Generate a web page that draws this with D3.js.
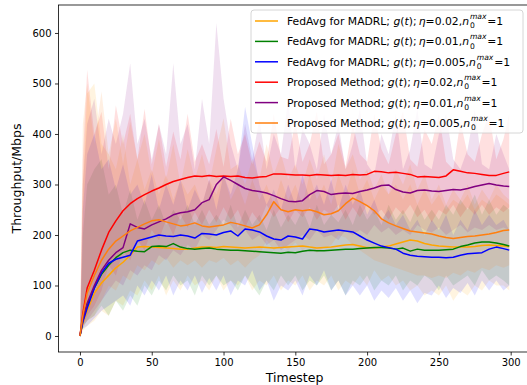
<!DOCTYPE html>
<html><head><meta charset="utf-8">
<script src="https://cdn.jsdelivr.net/npm/d3@7"></script>
<style>body{margin:0;background:#fff;} svg{display:block;font-family:"DejaVu Sans",sans-serif;}</style>
</head><body><svg id="c" width="527" height="385"></svg>
<script>
// ---------- data ----------
const timesteps = [0,2,5,10,15,20,25,30,35,40, 45,50,55,60,65,70,75,80,85,90, 95,100,105,110,115,120,125,130,135,140, 145,150,155,160,165,170,175,180,185,190, 195,200,205,210,215,220,225,230,235,240, 245,250,255,260,265,270,275,280,285,290, 295,299];
const xTicks = [0,50,100,150,200,250,300];
const yTicks = [0,100,200,300,400,500,600];
const seriesLabels = [
  {head:"FedAvg for MADRL; ", eta:"0.02"},
  {head:"FedAvg for MADRL; ", eta:"0.01"},
  {head:"FedAvg for MADRL; ", eta:"0.005"},
  {head:"Proposed Method; ", eta:"0.02"},
  {head:"Proposed Method; ", eta:"0.01"},
  {head:"Proposed Method; ", eta:"0.005"}
];
const seriesColors = ["#FFA500","#008000","#0000FF","#FF0000","#800080","#FF7F0E"];

// mean curves
const meanFed002 = [0,25,50,85,105,120,135,146,160,176,177,176,175,174,173,172,172,174,176,176,175,177,176,175,174,175,176,175,174,175,176,177,178,176,174,175,176,178,180,181,178,175,174,176,178,182,186,190,188,183,180,178,177,176,176,176,177,179,180,179,178,177];
const meanFed001 = [0,30,60,95,122,140,155,165,170,168,167,177,178,177,183,176,173,172,173,174,172,171,170,170,169,168,167,166,165,164,166,165,168,170,169,169,170,171,172,172,173,174,175,175,174,172,174,168,172,170,170,170,171,172,177,180,184,186,186,184,181,178];
const meanFed0005 = [0,28,55,95,125,144,152,156,160,188,192,196,200,198,197,200,198,194,203,202,200,205,208,198,212,210,206,198,192,190,198,196,192,212,210,206,208,210,208,206,198,190,184,178,175,172,164,160,158,157,156,156,155,156,160,163,164,165,172,176,173,170];
const meanProp002 = [0,45,95,130,170,205,228,248,262,272,280,287,293,300,306,310,314,317,316,318,316,317,316,317,314,313,315,316,321,321,320,319,319,318,320,319,318,319,318,320,319,320,326,325,323,324,322,320,315,316,315,314,317,329,326,323,322,320,318,318,322,325];
const meanProp001 = [0,35,65,100,130,150,165,175,222,215,212,220,226,232,240,244,246,250,264,270,300,315,308,300,292,288,286,283,278,272,267,266,268,280,288,286,280,282,283,282,286,289,293,298,299,290,285,283,288,289,287,286,288,290,289,292,296,299,302,299,297,296];
const meanProp0005 = [0,40,85,120,150,172,188,198,208,215,222,228,230,226,222,218,220,224,218,216,218,220,225,222,218,214,220,240,266,250,246,250,248,250,246,240,242,248,262,273,266,258,248,232,224,218,213,208,206,204,202,198,195,193,195,197,198,200,202,205,209,210];

// shaded band bounds
const hiFed002 = [0,300,480,500,380,360,330,400,300,350, 290,330,280,320,270,310,280,300,260,310, 280,320,270,300,260,310,270,300,260,310, 270,300,260,320,270,300,260,320,280,330, 280,310,270,300,280,330,300,340,290,320, 270,300,260,290,270,300,260,290,270,300, 280,270];
const loFed002 = [0,10,20,30,50,40,70,60,90,80, 110,90,120,80,110,90,120,100,110,90, 120,90,110,100,120,90,110,100,120,90, 110,100,120,90,110,100,120,90,110,100, 120,100,130,110,120,100,110,90,100,80, 90,80,100,70,90,80,100,90,110,100, 100,90];
const hiFed001 = [0,200,300,330,350,280,300,240,290,230, 270,230,260,220,250,230,260,220,250,220, 240,220,260,215,250,220,240,210,250,215, 240,220,250,215,260,220,240,225,250,220, 260,230,250,220,260,230,250,225,260,230, 250,230,260,240,270,250,280,240,270,240, 260,250];
const loFed001 = [0,15,30,40,60,40,70,50,80,60, 100,80,110,90,120,100,110,80,120,100, 120,100,110,90,120,100,80,110,90,120, 100,120,90,110,100,120,90,110,80,110, 100,120,90,110,100,120,90,110,100,120, 110,90,120,100,110,120,100,130,110,120, 110,100];
const hiFed0005 = [0,250,360,400,330,350,290,340,280,300, 260,320,250,300,260,310,250,290,260,310, 250,320,280,330,454,380,300,260,290,250, 300,260,320,270,300,260,310,250,300,260, 290,240,270,230,250,220,240,210,230,200, 230,210,240,200,230,210,250,220,240,220, 230,210];
const loFed0005 = [0,15,20,35,50,60,70,80,60,100, 80,110,90,120,80,110,90,120,85,115, 90,120,80,110,100,130,90,110,70,100, 90,110,80,120,100,130,90,110,80,100, 80,100,70,90,75,95,70,90,65,85, 80,100,75,95,85,105,80,110,90,110, 90,100];
const hiProp002 = [0,350,527,400,444,330,457,380,440,350, 450,340,420,335,405,350,440,345,380,340, 410,335,430,360,400,340,385,345,440,355, 350,425,345,380,445,340,360,400,335,420, 360,345,440,370,340,400,445,350,335,410, 380,440,345,330,425,360,345,400,440,350, 390,440];
const loProp002 = [0,20,40,60,90,140,120,170,150,190, 170,210,190,230,200,240,215,245,220,250, 225,255,230,250,215,245,225,260,235,255, 225,250,235,255,230,250,240,260,230,255, 235,260,240,250,230,255,240,260,235,250, 225,250,240,260,235,255,240,260,240,255, 245,255];
const hiProp001 = [0,300,420,470,360,430,380,440,540,380, 430,350,420,360,540,380,420,330,470,380, 620,470,380,330,420,350,430,330,400,360, 470,330,410,380,330,440,360,420,330,380, 450,340,320,400,360,440,330,370,450,340, 330,400,440,350,330,370,450,340,330,400, 360,330];
const loProp001 = [0,20,30,50,70,90,110,100,130,120, 140,130,160,150,170,160,180,170,200,190, 210,230,220,200,210,190,200,180,190,170, 180,190,200,190,210,195,200,190,210,200, 210,200,220,205,215,200,210,200,220,210, 205,215,200,210,220,205,215,210,220,210, 215,210];
const hiProp0005 = [0,420,500,380,484,360,430,340,424,350, 400,320,390,310,380,300,370,310,360,300, 370,431,330,340,300,350,310,380,320,360, 310,340,300,350,310,360,300,380,330,360, 310,330,290,320,280,300,270,300,260,290, 260,280,250,270,260,280,250,270,260,280, 270,260];
const loProp0005 = [0,20,30,40,70,100,90,120,110,140, 130,150,140,155,135,150,140,150,135,150, 145,155,140,150,135,150,160,190,170,180, 170,185,170,180,165,175,180,200,195,180, 170,160,150,145,140,135,130,125,120,120, 115,120,115,125,120,130,125,135,130,140, 135,140];

const means = [meanFed002, meanFed001, meanFed0005, meanProp002, meanProp001, meanProp0005];
const his = [hiFed002, hiFed001, hiFed0005, hiProp002, hiProp001, hiProp0005];
const los = [loFed002, loFed001, loFed0005, loProp002, loProp001, loProp0005];

// ---------- chart ----------
const svg = d3.select("#c");
const L = 58.5, R = 530.7, T = 5, B = 352;
const x = d3.scaleLinear().domain([-14.95, 313.95]).range([L, R]);
const y = d3.scaleLinear().domain([-31.7, 655.4]).range([B, T]);

svg.append("defs").append("clipPath").attr("id","clip")
  .append("rect").attr("x",L).attr("y",T).attr("width",R-L).attr("height",B-T);

const plot = svg.append("g").attr("clip-path","url(#clip)");
const area = d3.area().x((d,i)=>x(timesteps[i])).y0(d=>y(d[0])).y1(d=>y(d[1]));
const line = d3.line().x((d,i)=>x(timesteps[i])).y(d=>y(d));

means.forEach((m,k)=>{
  const band = timesteps.map((t,i)=>[los[k][i], his[k][i]]);
  plot.append("path").datum(band).attr("d",area)
    .attr("fill",seriesColors[k]).attr("fill-opacity",0.12).attr("stroke","none");
});
means.forEach((m,k)=>{
  plot.append("path").datum(m).attr("d",line)
    .attr("fill","none").attr("stroke",seriesColors[k]).attr("stroke-width",1.5)
    .attr("stroke-linejoin","round");
});

// axes
const xAxis = svg.append("g").attr("transform",`translate(0,${B})`)
  .call(d3.axisBottom(x).tickValues(xTicks).tickSize(3.5).tickPadding(3.5).tickSizeOuter(0));
const yAxis = svg.append("g").attr("transform",`translate(${L},0)`)
  .call(d3.axisLeft(y).tickValues(yTicks).tickSize(3.5).tickPadding(3.5).tickSizeOuter(0));
[xAxis,yAxis].forEach(a=>{
  a.select(".domain").remove();
  a.selectAll("text").attr("font-size",10).attr("font-family","DejaVu Sans").attr("fill","#000");
  a.selectAll("line").attr("stroke","#000").attr("stroke-width",0.8);
});
svg.append("rect").attr("x",L).attr("y",T).attr("width",R-L).attr("height",B-T)
  .attr("fill","none").attr("stroke","#000").attr("stroke-width",0.8);

svg.append("text").attr("x",(L+R)/2).attr("y",382).attr("text-anchor","middle")
  .attr("font-size",12.5).text("Timestep");
svg.append("text").attr("transform",`translate(21,${(T+B)/2}) rotate(-90)`).attr("text-anchor","middle")
  .attr("font-size",12.5).text("Throughput/Mbps");

// legend
const lg = svg.append("g");
lg.append("rect").attr("x",251).attr("y",10).attr("width",272).attr("height",123).attr("rx",3)
  .attr("fill","#fff").attr("fill-opacity",0.8).attr("stroke","#cccccc").attr("stroke-width",0.8);
seriesLabels.forEach((s,k)=>{
  const cy = 21 + k*20.4;
  lg.append("line").attr("x1",255).attr("x2",278).attr("y1",cy).attr("y2",cy)
    .attr("stroke",seriesColors[k]).attr("stroke-width",1.5);
  const base = cy + 3.9;
  const t = lg.append("text").attr("x",287).attr("y",base).attr("font-size",10.8).attr("fill","#000");
  t.append("tspan").text(s.head);
  t.append("tspan").attr("font-style","italic").text("g");
  t.append("tspan").text("(");
  t.append("tspan").attr("font-style","italic").text("t");
  t.append("tspan").text(");\u2009");
  t.append("tspan").attr("font-style","italic").text("η");
  t.append("tspan").text("=" + s.eta + ",");
  t.append("tspan").attr("font-style","italic").text("n");
  const bb = t.node().getBBox();
  const endX = bb.x + bb.width;
  // subscript and superscript as separate small texts
  lg.append("text").attr("x",endX+0.8).attr("y",base+3.3).attr("font-size",7.6).text("0");
  const sup = lg.append("text").attr("x",endX+0.8).attr("y",base-6).attr("font-size",7.6)
    .attr("font-style","italic").text("max");
  const supW = sup.node().getComputedTextLength();
  lg.append("text").attr("x",endX+0.8+supW+0.8).attr("y",base).attr("font-size",10.8).text("=1");
});
</script></body></html>
